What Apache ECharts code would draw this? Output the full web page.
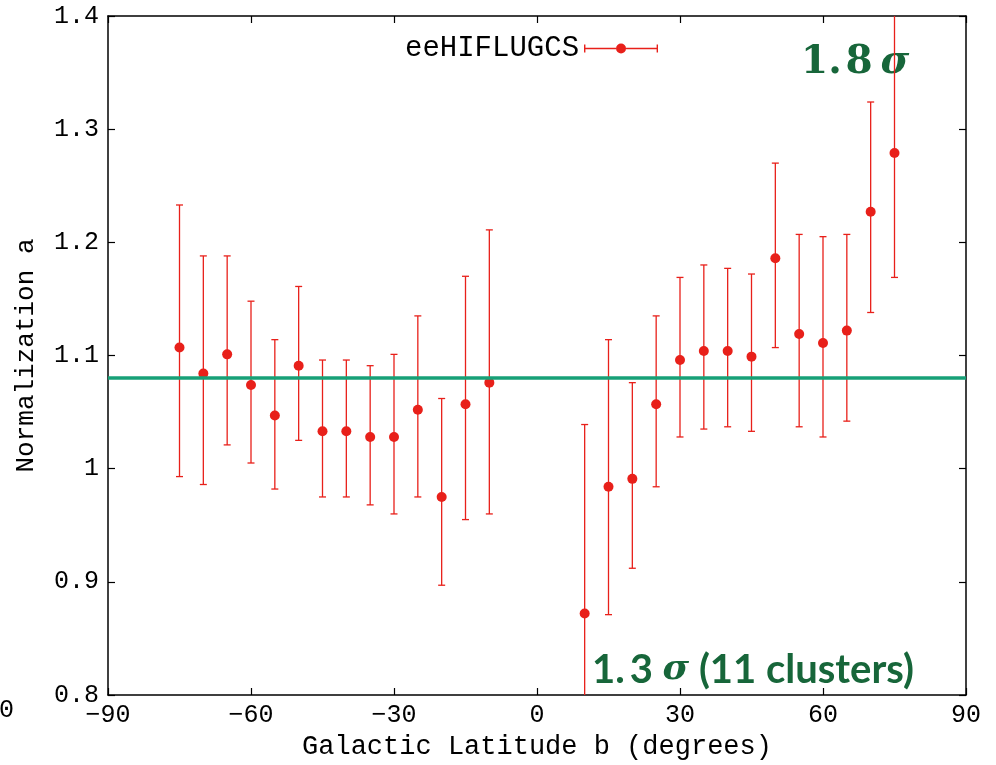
<!DOCTYPE html>
<html>
<head>
<meta charset="utf-8">
<script src="https://cdn.jsdelivr.net/npm/echarts@6/dist/echarts.min.js"></script>
<style>
  html, body { margin: 0; padding: 0; background: #fff; }
  #chart { width: 996px; height: 765px; }
</style>
</head>
<body>
<div id="chart"></div>
<script>
// galactic latitude bins (degrees)
const latitude = [-75, -70, -65, -60, -55, -50, -45, -40, -35, -30, -25, -20, -15, -10,
  10, 15, 20, 25, 30, 35, 40, 45, 50, 55, 60, 65, 70, 75];
// best-fit normalization a
const normA = [1.107, 1.084, 1.101, 1.074, 1.047, 1.091, 1.033, 1.033, 1.028, 1.028, 1.052, 0.975, 1.057, 1.076,
  0.872, 0.984, 0.991, 1.057, 1.096, 1.104, 1.104, 1.099, 1.186, 1.119, 1.111, 1.122, 1.227, 1.279];
// lower / upper ends of the error bars
const errLow = [0.993, 0.986, 1.021, 1.005, 0.982, 1.025, 0.975, 0.975, 0.968, 0.960, 0.975, 0.897, 0.955, 0.960,
  0.706, 0.871, 0.912, 0.984, 1.028, 1.035, 1.037, 1.033, 1.107, 1.037, 1.028, 1.042, 1.138, 1.169];
const errHigh = [1.233, 1.188, 1.188, 1.148, 1.114, 1.161, 1.096, 1.096, 1.091, 1.101, 1.135, 1.062, 1.170, 1.211,
  1.039, 1.114, 1.076, 1.135, 1.169, 1.180, 1.177, 1.172, 1.270, 1.207, 1.205, 1.207, 1.324, 1.420];
const allSkyNorm = 1.08;

const RED = '#e8201a';
const GREEN_LINE = '#17a077';
const GREEN_TEXT = '#17663a';
const MONO = 'Liberation Mono';
const SERIF = '"DejaVu Serif", "Liberation Serif", serif';

const chart = echarts.init(document.getElementById('chart'));

const pointData = latitude.map((b, i) => [b, normA[i]]);
const errData = latitude.map((b, i) => [b, errLow[i], errHigh[i]]);

const axisBase = {
  type: 'value',
  axisLine: { show: true, onZero: false, lineStyle: { color: '#000', width: 1.5 } },
  axisTick: { show: true, inside: true, length: 7, lineStyle: { color: '#000', width: 1.2 } },
  splitLine: { show: false }
};

const option = {
  animation: false,
  backgroundColor: '#fff',
  grid: { left: 108, right: 30, top: 16, bottom: 67, containLabel: false },
  legend: {
    data: ['eeHIFLUGCS'],
    left: 400,
    top: 29,
    align: 'right',
    itemWidth: 74,
    itemHeight: 12,
    icon: 'path://M0,5.25h32v1.5h-32Z M42,5.25h32v1.5h-32Z M0,2h1.4v8h-1.4Z M72.6,2h1.4v8h-1.4Z M32,6a5,5 0 1,1 10,0a5,5 0 1,1 -10,0Z',
    textStyle: { fontFamily: MONO, fontSize: 29, color: '#000' }
  },
  xAxis: [
    Object.assign({}, axisBase, {
      min: -90, max: 90, interval: 30, position: 'bottom',
      axisLabel: { fontFamily: MONO, fontSize: 25, color: '#000', margin: 8,
        formatter: v => String(v).replace('-', '\u2212') },
      name: 'Galactic Latitude b (degrees)',
      nameLocation: 'middle', nameGap: 38,
      nameTextStyle: { fontFamily: MONO, fontSize: 27, color: '#000' }
    }),
    Object.assign({}, axisBase, {
      min: -90, max: 90, interval: 30, position: 'top',
      axisLabel: { show: false }
    })
  ],
  yAxis: [
    Object.assign({}, axisBase, {
      min: 0.8, max: 1.4, interval: 0.1, position: 'left',
      axisLabel: { fontFamily: MONO, fontSize: 25, color: '#000', margin: 9,
        formatter: v => (Math.abs(v - 1) < 1e-9 ? '1' : v.toFixed(1)) },
      name: 'Normalization a',
      nameLocation: 'middle', nameGap: 69,
      nameTextStyle: { fontFamily: MONO, fontSize: 26, color: '#000' }
    }),
    Object.assign({}, axisBase, {
      min: 0.8, max: 1.4, interval: 0.1, position: 'right',
      axisLabel: { show: false }
    })
  ],
  graphic: [
    {
      type: 'text', left: 801, top: 43,
      style: {
        text: '{n|1.\u200a8\u2009}{s|σ}',
        rich: {
          n: { fontFamily: SERIF, fontWeight: 'bold', fontSize: 39, fill: GREEN_TEXT },
          s: { fontFamily: SERIF, fontWeight: 'bold', fontStyle: 'italic', fontSize: 39, fill: GREEN_TEXT }
        }
      }
    },
    {
      type: 'text', left: 592, top: 650,
      style: {
        text: '{n|1.\u20093 }{s|σ}{n| (11 clusters)}',
        rich: {
          n: { fontFamily: 'Lato', fontWeight: 'bold', fontSize: 40, fill: GREEN_TEXT },
          s: { fontFamily: SERIF, fontWeight: 'bold', fontStyle: 'italic', fontSize: 36, fill: GREEN_TEXT }
        }
      }
    },
    {
      type: 'text', left: -1, top: 698,
      style: { text: '0', fontFamily: MONO, fontSize: 25, fill: '#000' }
    }
  ],
  series: [
    {
      name: 'errors',
      type: 'custom',
      clip: true,
      silent: true,
      data: errData,
      renderItem: (params, api) => {
        const x = api.value(0);
        const lo = api.coord([x, api.value(1)]);
        const hi = api.coord([x, api.value(2)]);
        const cap = 3.5;
        const style = { stroke: RED, lineWidth: 1.3 };
        return {
          type: 'group',
          children: [
            { type: 'line', shape: { x1: lo[0], y1: lo[1], x2: hi[0], y2: hi[1] }, style },
            { type: 'line', shape: { x1: lo[0] - cap, y1: lo[1], x2: lo[0] + cap, y2: lo[1] }, style },
            { type: 'line', shape: { x1: hi[0] - cap, y1: hi[1], x2: hi[0] + cap, y2: hi[1] }, style }
          ]
        };
      },
      z: 2
    },
    {
      name: 'eeHIFLUGCS',
      type: 'scatter',
      data: pointData,
      symbol: 'circle',
      symbolSize: 10,
      itemStyle: { color: RED, opacity: 1 },
      z: 3,
      markLine: {
        silent: true,
        symbol: 'none',
        label: { show: false },
        lineStyle: { color: GREEN_LINE, width: 3.5, type: 'solid' },
        data: [{ yAxis: allSkyNorm }]
      }
    }
  ]
};

chart.setOption(option);
window.addEventListener('resize', () => chart.resize());
</script>
</body>
</html>
